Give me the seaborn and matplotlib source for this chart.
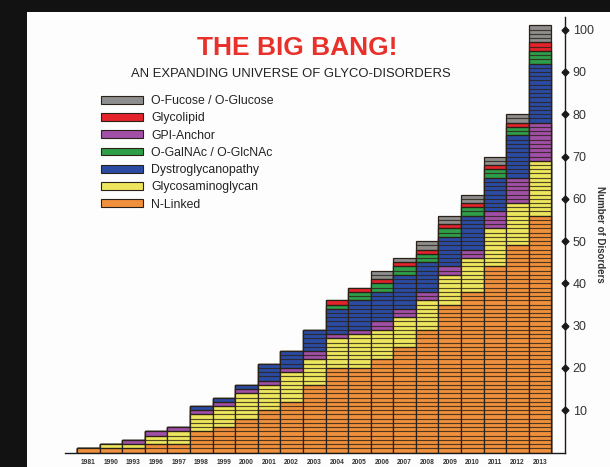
import numpy as np
import pandas as pd
import matplotlib
matplotlib.use("Agg")
import matplotlib.pyplot as plt
import seaborn as sns
from matplotlib.patches import Patch, Rectangle

# ---- data ----
years = ["1981", "1990", "1993", "1996", "1997", "1998", "1999", "2000", "2001", "2002",
         "2003", "2004", "2005", "2006", "2007", "2008", "2009", "2010", "2011", "2012", "2013"]
n_linked      = [1, 1, 1, 2, 2, 5, 6, 8, 10, 12, 16, 20, 20, 22, 25, 29, 35, 38, 44, 49, 56]
glycosamino   = [0, 1, 1, 2, 3, 4, 5, 6, 6, 7, 6, 7, 8, 7, 7, 7, 7, 8, 9, 10, 13]
gpi_anchor    = [0, 0, 1, 1, 1, 1, 1, 1, 1, 1, 2, 1, 1, 2, 2, 2, 2, 2, 4, 6, 9]
dystroglycan  = [0, 0, 0, 0, 0, 1, 1, 1, 4, 4, 5, 6, 7, 7, 8, 7, 7, 8, 8, 10, 14]
o_galnac      = [0, 0, 0, 0, 0, 0, 0, 0, 0, 0, 0, 1, 2, 2, 2, 2, 2, 2, 2, 2, 3]
glycolipid    = [0, 0, 0, 0, 0, 0, 0, 0, 0, 0, 0, 1, 1, 1, 1, 1, 1, 1, 1, 1, 2]
o_fucose      = [0, 0, 0, 0, 0, 0, 0, 0, 0, 0, 0, 0, 0, 2, 1, 2, 2, 2, 2, 2, 4]

categories = ["N-Linked", "Glycosaminoglycan", "GPI-Anchor", "Dystroglycanopathy",
              "O-GalNAc / O-GlcNAc", "Glycolipid", "O-Fucose / O-Glucose"]
series = [n_linked, glycosamino, gpi_anchor, dystroglycan, o_galnac, glycolipid, o_fucose]
colors = ["#F0903C", "#EEE65C", "#A24FA8", "#2B4BA3", "#2F9E4A", "#E4232B", "#8E8E8E"]
legend_order = ["O-Fucose / O-Glucose", "Glycolipid", "GPI-Anchor", "O-GalNAc / O-GlcNAc",
                "Dystroglycanopathy", "Glycosaminoglycan", "N-Linked"]
yticks = [10, 20, 30, 40, 50, 60, 70, 80, 90, 100]

df = pd.DataFrame(dict(zip(categories, series)), index=years)
cum = df.cumsum(axis=1)
color_map = dict(zip(categories, colors))

# ---- figure ----
sns.set_theme(style="white")
plt.rcParams['font.family'] = ['Liberation Sans', 'DejaVu Sans']

W, H = 610, 467
fig = plt.figure(figsize=(W / 100, H / 100), dpi=100, facecolor="#121212")
panel = Rectangle((27 / W, 0), 1, 1 - 12 / H, transform=fig.transFigure,
                  facecolor="#FDFDFD", edgecolor="none", zorder=-10)
fig.add_artist(panel)

ax = fig.add_axes([65 / W, (H - 452.5) / H, (565 - 65) / W, (452.5 - 17) / H])
ax.set_zorder(5)
ax.set_facecolor("none")

edge = "#2a2118"
for cat in reversed(categories):
    sns.barplot(x=years, y=cum[cat].values, order=years, color=color_map[cat],
                saturation=1, width=1.0, edgecolor=edge, linewidth=0.9, ax=ax)

totals = cum[categories[-1]].values
for i, t in enumerate(totals):
    if t > 1:
        ax.hlines(np.arange(1, t), i - 0.5, i + 0.5, colors=edge, linewidth=0.85, alpha=0.8)

ax.set_xlim(-1.03, 21.1)
ax.set_ylim(0, 103)

# axes styling
for s in ["left", "top"]:
    ax.spines[s].set_visible(False)
for s in ["right", "bottom"]:
    ax.spines[s].set_visible(True)
    ax.spines[s].set_color("#1a1a1a")
    ax.spines[s].set_linewidth(1.0)

ax.yaxis.tick_right()
ax.set_yticks(yticks)
ax.set_yticklabels([str(v) for v in yticks])
ax.tick_params(axis="y", which="major", right=True, left=False, direction="inout",
               length=7, width=1.0, color="#1a1a1a", labelsize=9, labelcolor="#333333", pad=2)
for tk in ax.yaxis.get_major_ticks():
    tk.tick2line.set_marker("D")
    tk.tick2line.set_markersize(3.5)
    tk.tick2line.set_markerfacecolor("#1a1a1a")

ax.yaxis.set_label_position("right")
ax.set_ylabel("Number of Disorders", rotation=-90, fontsize=7, fontweight="bold",
              color="#333333", labelpad=8)

ax.set_xlabel("")
ax.tick_params(axis="x", length=0, pad=5, labelsize=4.8, labelcolor="#333333")
for lab in ax.get_xticklabels():
    lab.set_fontweight("bold")

# titles
fig.text(297.5 / W, 1 - 48 / H, "THE BIG BANG!", color="#E8312A", fontsize=19,
         fontweight="bold", ha="center", va="center")
fig.text(291 / W, 1 - 74 / H, "AN EXPANDING UNIVERSE OF GLYCO-DISORDERS", color="#222222",
         fontsize=9.4, ha="center", va="center")

# legend
handles = [Patch(facecolor=color_map[c], edgecolor=edge, linewidth=0.8) for c in legend_order]
ax.legend(handles, legend_order, loc="upper left", bbox_to_anchor=(101 / W, 1 - 95 / H),
          bbox_transform=fig.transFigure, frameon=False, fontsize=8.8, handlelength=3.4,
          handleheight=0.6, labelspacing=0.43, handletextpad=0.7, borderpad=0,
          borderaxespad=0, labelcolor="#222222")

fig.savefig("out.png", dpi=100, facecolor=fig.get_facecolor())
